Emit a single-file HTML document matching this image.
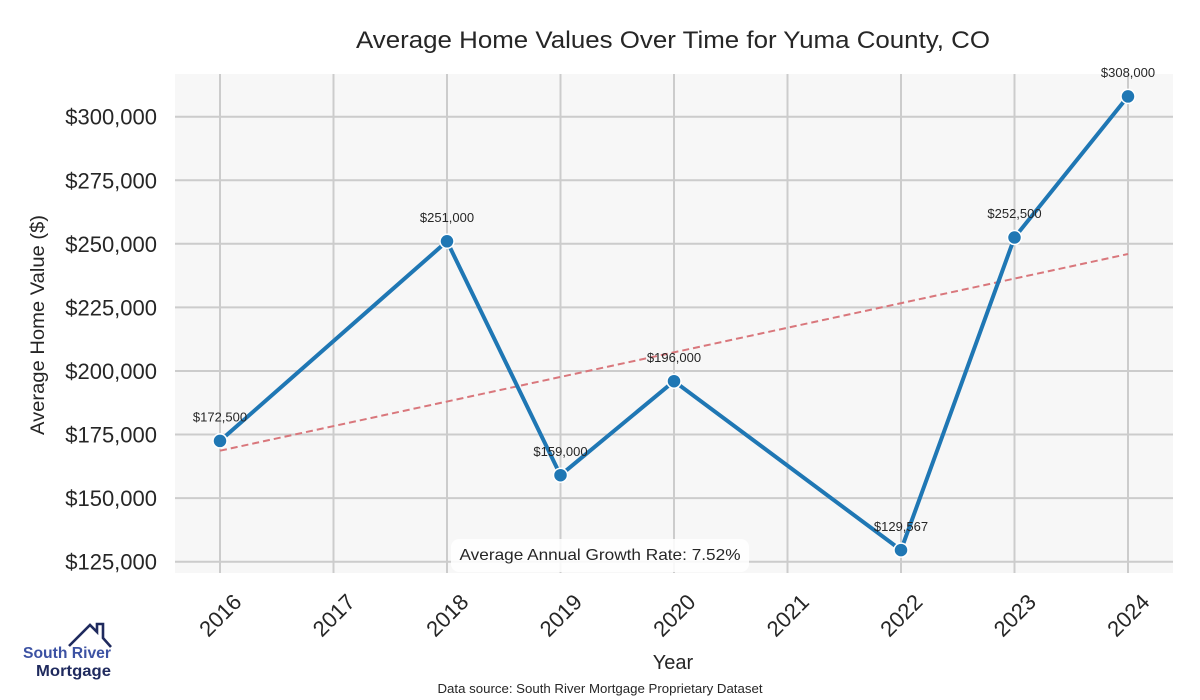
<!DOCTYPE html>
<html><head><meta charset="utf-8"><style>
html,body{margin:0;padding:0;background:#fff;}
svg{display:block;}
text{font-family:"Liberation Sans",sans-serif;}
</style></head><body>
<svg width="1200" height="700" viewBox="0 0 1200 700" xmlns="http://www.w3.org/2000/svg">
<rect x="0" y="0" width="1200" height="700" fill="#fff"/>
<!-- plot area -->
<rect x="175" y="74" width="998" height="499" fill="#f7f7f7"/>
<g stroke="#cccccc" stroke-width="2">
<line x1="220" y1="74" x2="220" y2="573"/>
<line x1="333.5" y1="74" x2="333.5" y2="573"/>
<line x1="447" y1="74" x2="447" y2="573"/>
<line x1="560.5" y1="74" x2="560.5" y2="573"/>
<line x1="674" y1="74" x2="674" y2="573"/>
<line x1="787.5" y1="74" x2="787.5" y2="573"/>
<line x1="901" y1="74" x2="901" y2="573"/>
<line x1="1014.5" y1="74" x2="1014.5" y2="573"/>
<line x1="1128" y1="74" x2="1128" y2="573"/>
<line x1="175" y1="116.7" x2="1173" y2="116.7"/>
<line x1="175" y1="180.3" x2="1173" y2="180.3"/>
<line x1="175" y1="243.8" x2="1173" y2="243.8"/>
<line x1="175" y1="307.4" x2="1173" y2="307.4"/>
<line x1="175" y1="371" x2="1173" y2="371"/>
<line x1="175" y1="434.5" x2="1173" y2="434.5"/>
<line x1="175" y1="498.1" x2="1173" y2="498.1"/>
<line x1="175" y1="561.7" x2="1173" y2="561.7"/>
</g>
<!-- trend line -->
<line x1="220" y1="450.7" x2="1128" y2="254" stroke="#d9777c" stroke-width="2" stroke-dasharray="7,4"/>
<!-- series -->
<polyline points="220,440.9 447,241.3 560.5,475.2 674,381.2 901,550.1 1014.5,237.5 1128,96.4" fill="none" stroke="#1f77b4" stroke-width="4" stroke-linejoin="round"/>
<g fill="#1f77b4" stroke="#fff" stroke-width="1.5">
<circle cx="220" cy="440.9" r="7"/>
<circle cx="447" cy="241.3" r="7"/>
<circle cx="560.5" cy="475.2" r="7"/>
<circle cx="674" cy="381.2" r="7"/>
<circle cx="901" cy="550.1" r="7"/>
<circle cx="1014.5" cy="237.5" r="7"/>
<circle cx="1128" cy="96.4" r="7"/>
</g>
<!-- point labels -->
<g font-size="13" fill="#262626" text-anchor="middle">
<text x="220" y="421.5">$172,500</text>
<text x="447" y="222">$251,000</text>
<text x="560.5" y="456">$159,000</text>
<text x="674" y="362">$196,000</text>
<text x="901" y="531">$129,567</text>
<text x="1014.5" y="218">$252,500</text>
<text x="1128" y="77">$308,000</text>
</g>
<!-- annotation box -->
<rect x="451" y="539" width="298" height="33" rx="8" fill="#ffffff" fill-opacity="0.85"/>
<text x="600" y="560" font-size="16" fill="#262626" text-anchor="middle" textLength="281" lengthAdjust="spacingAndGlyphs">Average Annual Growth Rate: 7.52%</text>
<!-- y tick labels -->
<g font-size="22" fill="#262626" text-anchor="end">
<text x="157" y="124.7">$300,000</text>
<text x="157" y="188.3">$275,000</text>
<text x="157" y="251.8">$250,000</text>
<text x="157" y="315.4">$225,000</text>
<text x="157" y="379">$200,000</text>
<text x="157" y="442.5">$175,000</text>
<text x="157" y="506.1">$150,000</text>
<text x="157" y="569.7">$125,000</text>
</g>
<!-- x tick labels -->
<g font-size="22" fill="#262626" text-anchor="middle">
<text transform="translate(220,615) rotate(-45)" y="8">2016</text>
<text transform="translate(333.5,615) rotate(-45)" y="8">2017</text>
<text transform="translate(447,615) rotate(-45)" y="8">2018</text>
<text transform="translate(560.5,615) rotate(-45)" y="8">2019</text>
<text transform="translate(674,615) rotate(-45)" y="8">2020</text>
<text transform="translate(787.5,615) rotate(-45)" y="8">2021</text>
<text transform="translate(901,615) rotate(-45)" y="8">2022</text>
<text transform="translate(1014.5,615) rotate(-45)" y="8">2023</text>
<text transform="translate(1128,615) rotate(-45)" y="8">2024</text>
</g>
<!-- axis labels -->
<text x="673" y="669" font-size="20" fill="#262626" text-anchor="middle">Year</text>
<text transform="translate(44,325) rotate(-90)" font-size="19" fill="#262626" text-anchor="middle" textLength="220" lengthAdjust="spacingAndGlyphs">Average Home Value ($)</text>
<!-- title -->
<text x="673" y="48" font-size="24" fill="#262626" text-anchor="middle" textLength="634" lengthAdjust="spacingAndGlyphs">Average Home Values Over Time for Yuma County, CO</text>
<!-- source -->
<text x="600" y="693" font-size="12.5" fill="#262626" text-anchor="middle" textLength="325" lengthAdjust="spacingAndGlyphs">Data source: South River Mortgage Proprietary Dataset</text>
<!-- logo -->
<g fill="none" stroke="#1f2a5e" stroke-width="2.6" stroke-linejoin="miter">
<polyline points="69,646 90,625 97,632 97,624 103,624 103,638 111,647"/>
</g>
<text x="23" y="658" font-size="16" font-weight="bold" fill="#3c52a3" textLength="88" lengthAdjust="spacingAndGlyphs">South River</text>
<text x="36" y="676" font-size="16" font-weight="bold" fill="#1f2a5e" textLength="75" lengthAdjust="spacingAndGlyphs">Mortgage</text>
</svg>
</body></html>
